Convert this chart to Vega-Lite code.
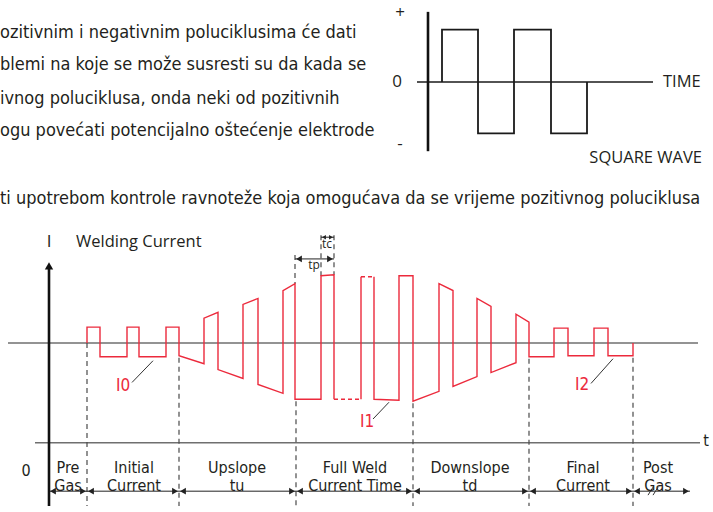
{
"$schema": "https://vega.github.io/schema/vega-lite/v6.json",
"width": 713, "height": 512, "padding": 0,
"autosize": {"type": "fit", "contains": "padding"},
"background": "white",
"config": {"view": {"stroke": null}},
"datasets": {
"paths": [
{"g":"red","id":"A","i":1,"x":87,"y":347},{"g":"red","id":"A","i":2,"x":87,"y":331},{"g":"red","id":"A","i":3,"x":100,"y":331},{"g":"red","id":"A","i":4,"x":100,"y":361},{"g":"red","id":"A","i":5,"x":127,"y":361},{"g":"red","id":"A","i":6,"x":127,"y":331},{"g":"red","id":"A","i":7,"x":139,"y":331},{"g":"red","id":"A","i":8,"x":139,"y":361},{"g":"red","id":"A","i":9,"x":166,"y":361},{"g":"red","id":"A","i":10,"x":166,"y":331},{"g":"red","id":"A","i":11,"x":179,"y":331},{"g":"red","id":"A","i":12,"x":179,"y":360},{"g":"red","id":"A","i":13,"x":204,"y":368},{"g":"red","id":"A","i":14,"x":204,"y":322},{"g":"red","id":"A","i":15,"x":218,"y":316},{"g":"red","id":"A","i":16,"x":218,"y":374},{"g":"red","id":"A","i":17,"x":243,"y":383},{"g":"red","id":"A","i":18,"x":243,"y":308},{"g":"red","id":"A","i":19,"x":258,"y":302},{"g":"red","id":"A","i":20,"x":258,"y":389},{"g":"red","id":"A","i":21,"x":283,"y":398},{"g":"red","id":"A","i":22,"x":283,"y":294},{"g":"red","id":"A","i":23,"x":295,"y":287},{"g":"red","id":"A","i":24,"x":295,"y":404},{"g":"red","id":"A","i":25,"x":321,"y":404},{"g":"red","id":"A","i":26,"x":321,"y":279},{"g":"red","id":"A","i":27,"x":334,"y":278},{"g":"red","id":"A","i":28,"x":334,"y":404},
{"g":"red","id":"B","i":1,"x":361,"y":404},{"g":"red","id":"B","i":2,"x":361,"y":280},
{"g":"red","id":"C","i":1,"x":374,"y":280},{"g":"red","id":"C","i":2,"x":374,"y":404},{"g":"red","id":"C","i":3,"x":399,"y":405},{"g":"red","id":"C","i":4,"x":399,"y":279},{"g":"red","id":"C","i":5,"x":413,"y":279},{"g":"red","id":"C","i":6,"x":413,"y":406},{"g":"red","id":"C","i":7,"x":439,"y":396},{"g":"red","id":"C","i":8,"x":439,"y":287},{"g":"red","id":"C","i":9,"x":453,"y":294},{"g":"red","id":"C","i":10,"x":453,"y":391},{"g":"red","id":"C","i":11,"x":477,"y":381},{"g":"red","id":"C","i":12,"x":477,"y":302},{"g":"red","id":"C","i":13,"x":491,"y":310},{"g":"red","id":"C","i":14,"x":491,"y":377},{"g":"red","id":"C","i":15,"x":516,"y":367},{"g":"red","id":"C","i":16,"x":516,"y":318},{"g":"red","id":"C","i":17,"x":529,"y":326},{"g":"red","id":"C","i":18,"x":529,"y":361},{"g":"red","id":"C","i":19,"x":554,"y":361},{"g":"red","id":"C","i":20,"x":554,"y":332},{"g":"red","id":"C","i":21,"x":568,"y":332},{"g":"red","id":"C","i":22,"x":568,"y":360},{"g":"red","id":"C","i":23,"x":594,"y":360},{"g":"red","id":"C","i":24,"x":594,"y":332},{"g":"red","id":"C","i":25,"x":608,"y":332},{"g":"red","id":"C","i":26,"x":608,"y":360},{"g":"red","id":"C","i":27,"x":633,"y":360},{"g":"red","id":"C","i":28,"x":633,"y":347},
{"g":"reddash","id":"D1","i":1,"x":334,"y":404},{"g":"reddash","id":"D1","i":2,"x":361,"y":404},
{"g":"reddash","id":"D2","i":1,"x":361,"y":280},{"g":"reddash","id":"D2","i":2,"x":374,"y":280},
{"g":"sq","id":"S","i":1,"x":442,"y":83},{"g":"sq","id":"S","i":2,"x":442,"y":30},{"g":"sq","id":"S","i":3,"x":478,"y":30},{"g":"sq","id":"S","i":4,"x":478,"y":135},{"g":"sq","id":"S","i":5,"x":514,"y":135},{"g":"sq","id":"S","i":6,"x":514,"y":30},{"g":"sq","id":"S","i":7,"x":551,"y":30},{"g":"sq","id":"S","i":8,"x":551,"y":135},{"g":"sq","id":"S","i":9,"x":587,"y":135},{"g":"sq","id":"S","i":10,"x":587,"y":83},
{"g":"axis","id":"SV","i":1,"x":428,"y":12},{"g":"axis","id":"SV","i":2,"x":428,"y":153},
{"g":"axis","id":"WV","i":1,"x":49,"y":270},{"g":"axis","id":"WV","i":2,"x":49,"y":512},
{"g":"thin","id":"SH","i":1,"x":417,"y":83},{"g":"thin","id":"SH","i":2,"x":653,"y":83},
{"g":"zero","id":"Z","i":1,"x":8,"y":347},{"g":"zero","id":"Z","i":2,"x":698,"y":347},
{"g":"zero","id":"T","i":1,"x":35,"y":448},{"g":"zero","id":"T","i":2,"x":700,"y":448},
{"g":"lead","id":"L0","i":1,"x":132,"y":387},{"g":"lead","id":"L0","i":2,"x":153,"y":365},
{"g":"lead","id":"L1","i":1,"x":373,"y":424},{"g":"lead","id":"L1","i":2,"x":389,"y":407},
{"g":"lead","id":"L2","i":1,"x":591,"y":388},{"g":"lead","id":"L2","i":2,"x":613,"y":363},
{"g":"lead","id":"K1","i":1,"x":648,"y":501},{"g":"lead","id":"K1","i":2,"x":653,"y":493},
{"g":"lead","id":"K2","i":1,"x":653,"y":501},{"g":"lead","id":"K2","i":2,"x":658,"y":493}
],
"vdash": [
{"x":87,"y":347,"y2":512},{"x":179,"y":362,"y2":512},{"x":296,"y":406,"y2":512},{"x":413,"y":408,"y2":512},{"x":529,"y":363,"y2":512},{"x":633,"y":362,"y2":512},{"x":295,"y":258,"y2":287},{"x":321,"y":238,"y2":279},{"x":334,"y":238,"y2":278}
],
"dims": [
{"x":49,"x2":87,"y":497},{"x":87,"x2":179,"y":497},{"x":179,"x2":296,"y":497},{"x":296,"x2":413,"y":497},{"x":413,"x2":529,"y":497},{"x":529,"x2":633,"y":497},{"x":633,"x2":690,"y":497},{"x":295,"x2":334,"y":262},{"x":321,"x2":334,"y":240}
],
"heads": [
{"g":"bigL","x":53,"y":497},{"g":"bigL","x":91,"y":497},{"g":"bigL","x":183,"y":497},{"g":"bigL","x":300,"y":497},{"g":"bigL","x":417,"y":497},{"g":"bigL","x":533,"y":497},{"g":"bigL","x":637,"y":497},{"g":"bigL","x":299,"y":262},
{"g":"bigR","x":83,"y":497},{"g":"bigR","x":175,"y":497},{"g":"bigR","x":292,"y":497},{"g":"bigR","x":409,"y":497},{"g":"bigR","x":525,"y":497},{"g":"bigR","x":629,"y":497},{"g":"bigR","x":686,"y":497},{"g":"bigR","x":330,"y":262},
{"g":"smL","x":324,"y":240},{"g":"smR","x":331,"y":240},
{"g":"up","x":49,"y":269}
],
"texts": [
{"g":"body","t":"ozitivnim i negativnim poluciklusima će dati","x":0,"y":38},
{"g":"body","t":"blemi na koje se može susresti su da kada se","x":0,"y":71},
{"g":"body","t":"ivnog poluciklusa, onda neki od pozitivnih","x":0,"y":105},
{"g":"body","t":"ogu povećati potencijalno oštećenje elektrode","x":0,"y":138},
{"g":"body","t":"ti upotrebom kontrole ravnoteže koja omogućava da se vrijeme pozitivnog poluciklusa","x":0,"y":206},
{"g":"c","t":"+","x":400,"y":13},{"g":"c","t":"0","x":397,"y":83},{"g":"c","t":"-","x":400,"y":146},
{"g":"l","t":"TIME","x":663,"y":83},
{"g":"r","t":"SQUARE WAVE","x":702,"y":160},
{"g":"c","t":"I","x":49,"y":245},
{"g":"l","t":"Welding Current","x":76,"y":245},
{"g":"small","t":"tp","x":314,"y":268},{"g":"small","t":"tc","x":327,"y":247},
{"g":"red","t":"I0","x":123,"y":391},{"g":"red","t":"I1","x":367,"y":427},{"g":"red","t":"I2","x":582,"y":390},
{"g":"stage","t":"0","x":26,"y":477},{"g":"stage","t":"t","x":706,"y":446},
{"g":"stage","t":"Pre\nGas","x":68,"y":474},
{"g":"stage","t":"Initial\nCurrent","x":134,"y":474},
{"g":"stage","t":"Upslope\ntu","x":237,"y":474},
{"g":"stage","t":"Full Weld\nCurrent Time","x":355,"y":474},
{"g":"stage","t":"Downslope\ntd","x":470,"y":474},
{"g":"stage","t":"Final\nCurrent","x":583,"y":474},
{"g":"stage","t":"Post\nGas","x":658,"y":474}
]
},
"encoding": {
"x": {"field":"x","type":"quantitative","scale":{"domain":[0,713],"nice":false,"zero":false},"axis":null},
"y": {"field":"y","type":"quantitative","scale":{"domain":[0,512],"nice":false,"zero":false,"reverse":true},"axis":null}
},
"layer": [
{"data":{"name":"paths"},"transform":[{"filter":"datum.g==='zero'"}],"mark":{"type":"line","color":"#6f6f6f","strokeWidth":1.5},"encoding":{"detail":{"field":"id"},"order":{"field":"i","type":"quantitative"}}},
{"data":{"name":"vdash"},"mark":{"type":"rule","color":"#4a4a4a","strokeWidth":1.2,"strokeDash":[5,4]},"encoding":{"y2":{"field":"y2"}}},
{"data":{"name":"dims"},"mark":{"type":"rule","color":"#222222","strokeWidth":1},"encoding":{"x2":{"field":"x2"}}},
{"data":{"name":"heads"},"transform":[{"filter":"datum.g==='bigL'"}],"mark":{"type":"point","shape":"triangle-left","filled":true,"color":"#222222","size":45,"opacity":1}},
{"data":{"name":"heads"},"transform":[{"filter":"datum.g==='bigR'"}],"mark":{"type":"point","shape":"triangle-right","filled":true,"color":"#222222","size":45,"opacity":1}},
{"data":{"name":"heads"},"transform":[{"filter":"datum.g==='smL'"}],"mark":{"type":"point","shape":"triangle-left","filled":true,"color":"#222222","size":20,"opacity":1}},
{"data":{"name":"heads"},"transform":[{"filter":"datum.g==='smR'"}],"mark":{"type":"point","shape":"triangle-right","filled":true,"color":"#222222","size":20,"opacity":1}},
{"data":{"name":"heads"},"transform":[{"filter":"datum.g==='up'"}],"mark":{"type":"point","shape":"triangle-up","filled":true,"color":"#111111","size":70,"opacity":1}},
{"data":{"name":"paths"},"transform":[{"filter":"datum.g==='lead'"}],"mark":{"type":"line","color":"#333333","strokeWidth":1},"encoding":{"detail":{"field":"id"},"order":{"field":"i","type":"quantitative"}}},
{"data":{"name":"paths"},"transform":[{"filter":"datum.g==='thin'"}],"mark":{"type":"line","color":"#1a1a1a","strokeWidth":1.6},"encoding":{"detail":{"field":"id"},"order":{"field":"i","type":"quantitative"}}},
{"data":{"name":"paths"},"transform":[{"filter":"datum.g==='axis'"}],"mark":{"type":"line","color":"#111111","strokeWidth":2.6},"encoding":{"detail":{"field":"id"},"order":{"field":"i","type":"quantitative"}}},
{"data":{"name":"paths"},"transform":[{"filter":"datum.g==='sq'"}],"mark":{"type":"line","color":"#1a1a1a","strokeWidth":1.8},"encoding":{"detail":{"field":"id"},"order":{"field":"i","type":"quantitative"}}},
{"data":{"name":"paths"},"transform":[{"filter":"datum.g==='red'"}],"mark":{"type":"line","color":"#ec2a3c","strokeWidth":1.4},"encoding":{"detail":{"field":"id"},"order":{"field":"i","type":"quantitative"}}},
{"data":{"name":"paths"},"transform":[{"filter":"datum.g==='reddash'"}],"mark":{"type":"line","color":"#ec2a3c","strokeWidth":1.4,"strokeDash":[4,3]},"encoding":{"detail":{"field":"id"},"order":{"field":"i","type":"quantitative"}}},
{"data":{"name":"texts"},"transform":[{"filter":"datum.g==='body'"}],"mark":{"type":"text","font":"DejaVu Sans Condensed","fontSize":18,"align":"left","baseline":"alphabetic","color":"#231f20"},"encoding":{"text":{"field":"t"}}},
{"data":{"name":"texts"},"transform":[{"filter":"datum.g==='c'"}],"mark":{"type":"text","font":"Open Sans","fontSize":17,"align":"center","baseline":"middle","color":"#231f20"},"encoding":{"text":{"field":"t"}}},
{"data":{"name":"texts"},"transform":[{"filter":"datum.g==='l'"}],"mark":{"type":"text","font":"Open Sans","fontSize":16.5,"align":"left","baseline":"middle","color":"#231f20"},"encoding":{"text":{"field":"t"}}},
{"data":{"name":"texts"},"transform":[{"filter":"datum.g==='r'"}],"mark":{"type":"text","font":"Open Sans","fontSize":16.5,"align":"right","baseline":"middle","color":"#231f20"},"encoding":{"text":{"field":"t"}}},
{"data":{"name":"texts"},"transform":[{"filter":"datum.g==='small'"}],"mark":{"type":"text","font":"Open Sans","fontSize":12,"align":"center","baseline":"middle","color":"#231f20"},"encoding":{"text":{"field":"t"}}},
{"data":{"name":"texts"},"transform":[{"filter":"datum.g==='red'"}],"mark":{"type":"text","font":"DejaVu Sans Condensed","fontSize":17,"align":"center","baseline":"middle","color":"#ec2a3c"},"encoding":{"text":{"field":"t"}}},
{"data":{"name":"texts"},"transform":[{"filter":"datum.g==='stage'"}],"mark":{"type":"text","font":"DejaVu Sans Condensed","fontSize":16,"lineBreak":"\n","lineHeight":18,"align":"center","baseline":"middle","color":"#231f20"},"encoding":{"text":{"field":"t"}}}
]
}
